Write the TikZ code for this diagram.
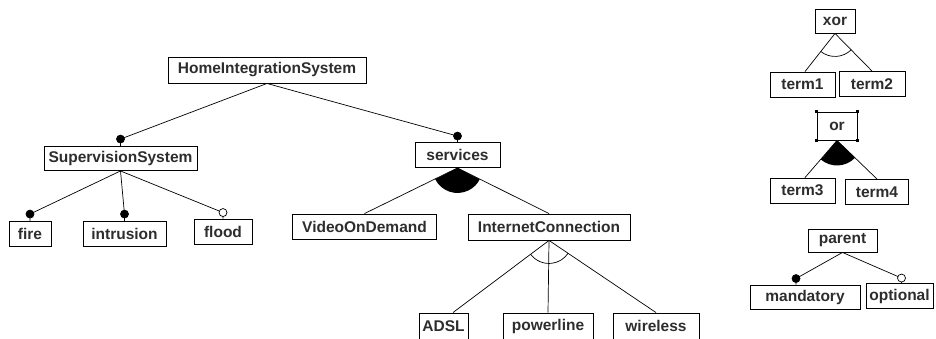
\documentclass[tikz,border=0pt]{standalone}
\usepackage{fontspec}
\setmainfont{Liberation Sans}
\definecolor{txt}{RGB}{45,45,45}
\begin{document}
\begin{tikzpicture}[x=1pt,y=1pt,
  fbox/.style={draw=black, line width=0.9pt, inner sep=0pt, text=txt,
    font=\bfseries\fontsize{15.5}{15.5}\selectfont, anchor=center},
  conn/.style={line width=0.7pt, draw=black},
  mand/.style={circle, fill=black, draw=black, inner sep=0pt, minimum size=8pt},
  opt/.style={circle, fill=white, draw=black, line width=0.7pt, inner sep=0pt, minimum size=8pt},
  handle/.style={fill=black, inner sep=0pt, minimum size=3.5pt}]
\useasboundingbox (0,0) rectangle (936,-338);

% ---------- nodes ----------
\node[fbox, minimum width=198, minimum height=26] (his) at (267,-70) {HomeIntegrationSystem};
\node[fbox, minimum width=153, minimum height=24] (sup) at (120.5,-158.5) {SupervisionSystem};
\node[fbox, minimum width=42, minimum height=25] (fire) at (30,-234) {fire};
\node[fbox, minimum width=83, minimum height=25] (intr) at (124.5,-234) {intrusion};
\node[fbox, minimum width=58, minimum height=25] (flood) at (223,-231.5) {flood};
\node[fbox, minimum width=85, minimum height=25] (serv) at (457.5,-155) {services};
\node[fbox, minimum width=144, minimum height=25] (vod) at (364.5,-226.5) {VideoOnDemand};
\node[fbox, minimum width=162, minimum height=26] (ic) at (549,-227) {InternetConnection};
\node[fbox, minimum width=49, minimum height=26] (adsl) at (443.5,-326) {ADSL};
\node[fbox, minimum width=90, minimum height=26] (pl) at (548,-326) {powerline};
\node[fbox, minimum width=86, minimum height=26] (wl) at (656,-326) {wireless};

\node[fbox, minimum width=40, minimum height=24] (xor) at (835,-21) {xor};
\node[fbox, minimum width=65, minimum height=25] (t1) at (802.5,-84.5) {term1};
\node[fbox, minimum width=66, minimum height=25] (t2) at (872,-84) {term2};
\node[fbox, minimum width=40, minimum height=28] (or) at (837,-126) {or};
\node[fbox, minimum width=65, minimum height=25] (t3) at (802.5,-190.5) {term3};
\node[fbox, minimum width=63, minimum height=25] (t4) at (877,-192) {term4};
\node[fbox, minimum width=69, minimum height=23] (par) at (842.5,-240.5) {parent};
\node[fbox, minimum width=110, minimum height=24] (man) at (805,-297) {mandatory};
\node[fbox, minimum width=67, minimum height=25] (opt) at (899.5,-296) {optional};

% selection handles of "or"
\foreach \c in {north west, north east, south west, south east}
  \node[handle] at (or.\c) {};

% ---------- connectors ----------
% mandatory / optional edges
\draw[conn] (his.south) -- ([yshift=7pt]sup.north) node[mand] (d1) {} -- (sup.north);
\draw[conn] (his.south) -- ([yshift=6pt]serv.north) node[mand] (d2) {} -- (serv.north);
\draw[conn] (sup.south) -- ([yshift=7pt]fire.north) node[mand] (d3) {} -- (fire.north);
\draw[conn] (sup.south) -- ([yshift=7pt]intr.north) node[mand] (d4) {} -- (intr.north);
\draw[conn] (sup.south) -- ([yshift=6pt]flood.north) coordinate (d5) -- (flood.north);
\node[opt] at (d5) {};
\draw[conn] (par.south) -- ([xshift=-9pt,yshift=6pt]man.north) node[mand] (d6) {} -- ([xshift=-9pt]man.north);
\draw[conn] (par.south) -- ([xshift=2pt,yshift=5pt]opt.north) coordinate (d7) -- ([xshift=2pt]opt.north);
\node[opt] at (d7) {};

% or-group of services
\fill (serv.south) -- ++(206.9:25pt) arc[start angle=206.9, end angle=332.8, radius=25pt] -- cycle;
\draw[conn] (serv.south) -- (vod.north);
\draw[conn] (serv.south) -- (ic.north);

% xor-group of InternetConnection
\draw[conn] (ic.south) -- ([xshift=9.5pt]adsl.north);
\draw[conn] (ic.south) -- (pl.north);
\draw[conn] (ic.south) -- (wl.north);
\draw[conn] ([shift={(217.3:23pt)}]ic.south) arc[start angle=217.3, end angle=325.7, radius=23pt];

% legend: xor
\draw[conn] (xor.south) -- ([xshift=2.5pt]t1.north);
\draw[conn] (xor.south) -- (t2.north);
\draw[conn] ([shift={(231.7:23pt)}]xor.south) arc[start angle=231.7, end angle=315, radius=23pt];

% legend: or
\fill (or.south) -- ++(229.9:25pt) arc[start angle=229.9, end angle=316.5, radius=25pt] -- cycle;
\draw[conn] (or.south) -- ([xshift=2.5pt]t3.north);
\draw[conn] (or.south) -- (t4.north);
\end{tikzpicture}
\end{document}
